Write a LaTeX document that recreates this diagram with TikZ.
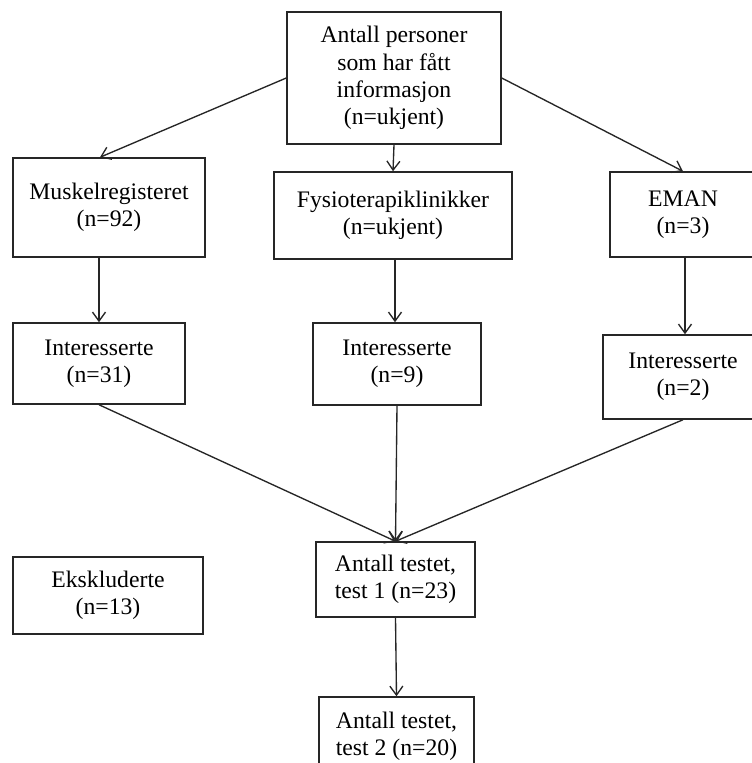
\documentclass[tikz,border=0pt]{standalone}
\usepackage{fontspec}
\setmainfont{Liberation Serif}
\usetikzlibrary{arrows.meta}
\begin{document}
\begin{tikzpicture}[
  x=1pt, y=-1pt,
  fbox/.style={draw=black!85, line width=1.5pt, align=center, inner sep=0,
    font=\fontsize{23.7}{27.3}\selectfont},
  farrow/.style={draw=black!85, line width=1.35pt, -{Straight Barb[length=9pt,width=13pt]}}
]
\useasboundingbox (0,0) rectangle (752,763);
\node[fbox, minimum width=214, minimum height=132] (top) at (394,78)
  {Antall personer\\som har fått\\informasjon\\(n=ukjent)};
\node[fbox, minimum width=192, minimum height=99] (musk) at (109,207.5) {Muskelregisteret\\(n=92)};
\node[fbox, minimum width=238, minimum height=87] (fysio) at (393,215.5) {Fysioterapiklinikker\\(n=ukjent)};
\node[fbox, minimum width=146, minimum height=85] (eman) at (683,214.5) {EMAN\\(n=3)};
\node[fbox, minimum width=172, minimum height=81] (int1) at (99,363.5) {Interesserte\\(n=31)};
\node[fbox, minimum width=168, minimum height=82] (int2) at (397,364) {Interesserte\\(n=9)};
\node[fbox, minimum width=160, minimum height=84] (int3) at (683,377) {Interesserte\\(n=2)};
\node[fbox, minimum width=190, minimum height=77] (eks) at (108,595.5) {Ekskluderte\\(n=13)};
\node[fbox, minimum width=159, minimum height=75] (t1) at (395.5,579.5) {Antall testet,\\test 1 (n=23)};
\node[fbox, minimum width=155, minimum height=78] (t2) at (396.5,736) {Antall testet,\\test 2 (n=20)};
% from the top box
\draw[farrow] (top.west) -- ([xshift=-9pt]musk.north);
\draw[farrow] (top.south) -- (fysio.north);
\draw[farrow] (top.east) -- (eman.north);
% down to the interested
\draw[farrow] (int1.north |- musk.south) -- (int1.north);
\draw[farrow] ([xshift=2pt]fysio.south) -- ([xshift=2pt]fysio.south |- int2.north);
\draw[farrow] ([xshift=2pt]eman.south) -- ([xshift=2pt]int3.north);
% into the tests
\foreach \s in {int1,int2,int3}{
  \draw[farrow] (\s.south) -- (t1.north);
}
\draw[farrow] (t1.south) -- (t2.north);
\end{tikzpicture}
\end{document}
